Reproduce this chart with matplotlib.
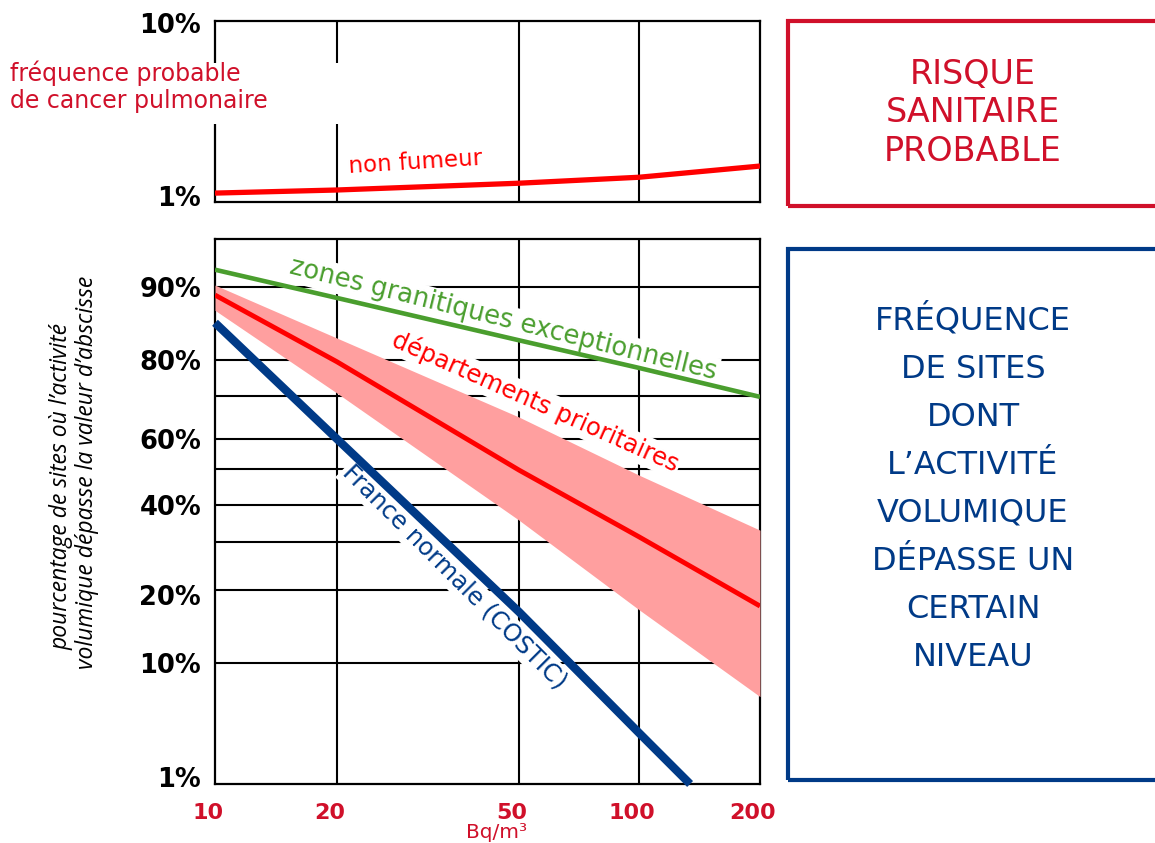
import numpy as np
import matplotlib
matplotlib.use("Agg")
import matplotlib.pyplot as plt
from matplotlib.patches import Rectangle
from matplotlib.transforms import ScaledTranslation

# ---------------- data ----------------
x_ticks = [10, 20, 50, 100, 200]
x_tick_labels = ["10", "20", "50", "100", "200"]

# top panel: lung cancer probable frequency, non smoker (%)
top_x = [10, 20, 50, 100, 200]
non_fumeur = [1.12, 1.165, 1.27, 1.37, 1.58]
top_ticks = [1, 10]
top_tick_labels = ["1%", "10%"]

# bottom panel: % of sites where activity exceeds abscissa value
pct_ticks = [1, 10, 20, 40, 60, 80, 90]
pct_tick_labels = ["1%", "10%", "20%", "40%", "60%", "80%", "90%"]
pct_grid = [10, 20, 30, 40, 50, 60, 70, 80, 90]

x_pts = [10, 20, 50, 100, 200]
granit = [91.8, 88.5, 82.7, 77.8, 69.8]
dept = [88.9, 79.5, 49.7, 31.4, 17.8]
dept_hi = [90.2, 83.0, 65.1, 48.3, 33.2]
dept_lo = [86.8, 70.8, 35.9, 17.3, 7.5]
france_x = [10, 20, 50, 100, 134]
france = [85.1, 60.0, 17.0, 4.8, 1.0]

# graduations of the (hand drawn) chart paper
X_KNOTS = np.log10([10, 20, 50, 100, 200])
X_POS = np.array([0, 122, 304, 424, 545], float)
P_KNOTS = np.array([1, 10, 20, 30, 40, 50, 60, 70, 80, 90, 95], float)
P_POS = np.array([0, 121, 194, 242, 279, 315, 345, 388, 424, 497, 545], float)


def x_fwd(v):
    v = np.asarray(v, float)
    return np.interp(np.log10(np.clip(v, 1e-9, None)), X_KNOTS, X_POS)


def x_inv(p):
    return 10 ** np.interp(np.asarray(p, float), X_POS, X_KNOTS)


def p_fwd(v):
    return np.interp(np.asarray(v, float), P_KNOTS, P_POS)


def p_inv(p):
    return np.interp(np.asarray(p, float), P_POS, P_KNOTS)


CRIMSON = "#d0102a"
NAVY = "#003a87"
RED = "#ff0000"
GREEN = "#4a9e2e"
PINK = "#ff9f9f"

W, H = 1155, 843
fig = plt.figure(figsize=(W / 100, H / 100), dpi=100)
plt.rcParams["font.family"] = ["DejaVu Sans"]


def fx(x):
    return x / W


def fy(y):
    return 1 - y / H


def axes_rect(l, t, r, b):
    return [fx(l), fy(b), (r - l) / W, (b - t) / H]


# ---------------- top panel ----------------
ax1 = fig.add_axes(axes_rect(215, 21, 760, 202))
ax1.set_xscale("function", functions=(x_fwd, x_inv))
ax1.set_yscale("log")
ax1.set_xlim(10, 200)
ax1.set_ylim(1, 10)
for xv in x_ticks[1:-1]:
    ax1.axvline(xv, color="black", lw=1.5, zorder=1)
ax1.plot(top_x, non_fumeur, color=RED, lw=3.8, zorder=4, solid_capstyle="butt")
ax1.set_yticks(top_ticks)
ax1.set_yticklabels(top_tick_labels)
ax1.yaxis.set_minor_locator(matplotlib.ticker.NullLocator())
ax1.set_xticks([])
ax1.tick_params(axis="y", length=0, pad=10, labelsize=18.5)
for lab in ax1.get_yticklabels():
    lab.set_fontweight("bold")
for s in ax1.spines.values():
    s.set_linewidth(1.6)
lbls = ax1.get_yticklabels()
lbls[0].set_transform(lbls[0].get_transform() + ScaledTranslation(0, 6 / 100, fig.dpi_scale_trans))
lbls[1].set_transform(lbls[1].get_transform() + ScaledTranslation(0, -2 / 100, fig.dpi_scale_trans))
ax1.text(fx(415), fy(162), "non fumeur", transform=fig.transFigure, color=RED,
         fontsize=16.5, rotation=3.5, ha="center", va="center", zorder=5)

# ---------------- bottom panel ----------------
ax2 = fig.add_axes(axes_rect(215, 239, 760, 784))
ax2.set_xscale("function", functions=(x_fwd, x_inv))
ax2.set_yscale("function", functions=(p_fwd, p_inv))
ax2.set_xlim(10, 200)
ax2.set_ylim(1, 95)
for xv in x_ticks[1:-1]:
    ax2.axvline(xv, color="black", lw=1.5, zorder=1)
for pv in pct_grid:
    ax2.axhline(pv, color="black", lw=1.5, zorder=1)

ax2.fill_between(x_pts, dept_lo, dept_hi, color=PINK, lw=0, zorder=3)
ax2.plot(x_pts, granit, color=GREEN, lw=3.3, zorder=4, solid_capstyle="butt")
ax2.plot(x_pts, dept, color=RED, lw=3.5, zorder=4, solid_capstyle="butt")
ax2.plot(france_x, france, color=NAVY, lw=6, zorder=4, solid_capstyle="butt", clip_on=False)

ax2.set_yticks(pct_ticks)
ax2.set_yticklabels(pct_tick_labels)
ax2.yaxis.set_minor_locator(matplotlib.ticker.NullLocator())
ax2.set_xticks(x_ticks)
ax2.set_xticklabels(x_tick_labels)
ax2.xaxis.set_minor_locator(matplotlib.ticker.NullLocator())
ax2.tick_params(axis="y", length=0, pad=10, labelsize=18.5)
ax2.tick_params(axis="x", length=0, pad=14, labelsize=16, labelcolor=CRIMSON)
for lab in ax2.get_yticklabels() + ax2.get_xticklabels():
    lab.set_fontweight("bold")
for lab in ax2.get_xticklabels():
    lab.set_transform(lab.get_transform() + ScaledTranslation(-7 / 100, 0, fig.dpi_scale_trans))
ylb = ax2.get_yticklabels()
ylb[0].set_transform(ylb[0].get_transform() + ScaledTranslation(0, 7 / 100, fig.dpi_scale_trans))
ylb[2].set_transform(ylb[2].get_transform() + ScaledTranslation(0, -5 / 100, fig.dpi_scale_trans))
for s in ax2.spines.values():
    s.set_linewidth(1.6)

bb = dict(facecolor="white", edgecolor="none", pad=1.5)
ax2.text(fx(503), fy(320), "zones granitiques exceptionnelles", transform=fig.transFigure,
         color=GREEN, fontsize=18.5, rotation=-14, ha="center", va="center",
         rotation_mode="anchor", zorder=2, bbox=bb)
ax2.text(fx(535), fy(402), "départements prioritaires", transform=fig.transFigure,
         color=RED, fontsize=17.5, rotation=-24, ha="center", va="center",
         rotation_mode="anchor", zorder=2, bbox=bb)
ax2.text(fx(455), fy(577), "France normale (COSTIC)", transform=fig.transFigure,
         color=NAVY, fontsize=17.5, rotation=-45, ha="center", va="center",
         rotation_mode="anchor", zorder=2, bbox=bb)

fig.text(fx(497), fy(833), "Bq/m³", color=CRIMSON, fontsize=14.5, ha="center", va="center")

# y axis title (two lines)
fig.text(fx(62), fy(486), "pourcentage de sites où l’activité", rotation=90,
         ha="center", va="center", fontsize=16.5, style="italic",
         family=["Open Sans", "DejaVu Sans"])
fig.text(fx(87), fy(472), "volumique dépasse la valeur d’abscisse", rotation=90,
         ha="center", va="center", fontsize=16.5, style="italic",
         family=["Open Sans", "DejaVu Sans"])

# white patch behind left annotation (breaks the grid lines as in the original)
fig.add_artist(Rectangle((fx(0), fy(124)), fx(345), (124 - 63) / H, transform=fig.transFigure,
                         facecolor="white", edgecolor="none", zorder=3))
fig.text(fx(10), fy(73), "fréquence probable", color=CRIMSON, fontsize=17,
         ha="left", va="center", zorder=4)
fig.text(fx(10), fy(101), "de cancer pulmonaire", color=CRIMSON, fontsize=17,
         ha="left", va="center", zorder=4)

# ---------------- right boxes ----------------
fig.add_artist(Rectangle((fx(788), fy(206)), fx(1175 - 788), (206 - 20.5) / H,
                         transform=fig.transFigure, facecolor="none",
                         edgecolor=CRIMSON, lw=3, clip_on=False))
fig.text(fx(973), fy(113), "RISQUE\nSANITAIRE\nPROBABLE", color=CRIMSON, fontsize=24,
         ha="center", va="center", linespacing=1.2, multialignment="center")

fig.add_artist(Rectangle((fx(788), fy(780)), fx(1175 - 788), (780 - 248.5) / H,
                         transform=fig.transFigure, facecolor="none",
                         edgecolor=NAVY, lw=3, clip_on=False))
fig.text(fx(973), fy(488),
         "FRÉQUENCE\nDE SITES\nDONT\nL’ACTIVITÉ\nVOLUMIQUE\nDÉPASSE UN\nCERTAIN\nNIVEAU",
         color=NAVY, fontsize=23, ha="center", va="center", linespacing=1.71,
         multialignment="center")

fig.savefig("out.png", dpi=100)
